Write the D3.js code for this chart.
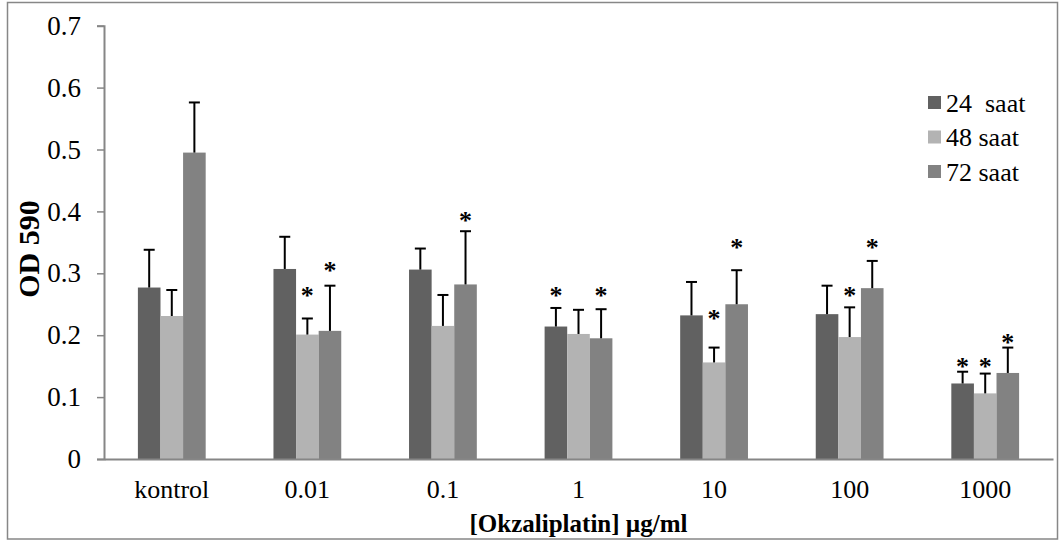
<!DOCTYPE html>
<html><head><meta charset="utf-8">
<script src="https://cdn.jsdelivr.net/npm/d3@7"></script>
<style>html,body{margin:0;padding:0;background:#fff;} svg text{font-family:"Liberation Serif","Times New Roman",serif;}</style>
</head><body>
<svg id="c" width="1062" height="542"></svg>
<script>
const categories = ["kontrol","0.01","0.1","1","10","100","1000"];
const seriesNames = ["24  saat","48 saat","72 saat"];
const s24 = [0.277,0.307,0.306,0.214,0.232,0.234,0.122];
const s48 = [0.231,0.201,0.215,0.202,0.156,0.197,0.106];
const s72 = [0.495,0.207,0.282,0.195,0.250,0.276,0.139];
const e24 = [0.061,0.052,0.034,0.030,0.054,0.046,0.019];
const e48 = [0.042,0.026,0.050,0.039,0.024,0.048,0.032];
const e72 = [0.081,0.073,0.086,0.047,0.055,0.044,0.041];
const star24 = [null,null,null,0.272,null,null,0.156];
const star48 = [null,0.272,null,null,0.234,0.272,0.156];
const star72 = [null,0.311,0.392,0.272,0.349,0.349,0.195];
const yTicks = [0,0.1,0.2,0.3,0.4,0.5,0.6,0.7];
const yTickLabels = ["0","0.1","0.2","0.3","0.4","0.5","0.6","0.7"];
const colors = ["#616161","#b3b3b3","#828282"];
const FONT = "'Liberation Serif', 'Times New Roman', serif";

const series = [
  {name:seriesNames[0], v:s24, e:e24, s:star24},
  {name:seriesNames[1], v:s48, e:e48, s:star48},
  {name:seriesNames[2], v:s72, e:e72, s:star72}
];

const svg = d3.select("#c");
svg.append("rect").attr("x",7.5).attr("y",2.5).attr("width",1050).attr("height",536.5)
  .attr("fill","#fff").attr("stroke","#878787").attr("stroke-width",1.5);

const x0 = d3.scaleBand().domain(categories).range([104,1053]).padding(0);
const x1 = d3.scaleBand().domain([0,1,2]).range([x0.bandwidth()*0.25, x0.bandwidth()*0.75]).padding(0);
const y = d3.scaleLinear().domain([0,0.7]).range([459,25.7]);

// y axis
const ya = svg.append("g").attr("transform","translate(104,0)")
  .call(d3.axisLeft(y).tickValues(yTicks).tickSize(7).tickPadding(16)
    .tickFormat((d,i)=>yTickLabels[i]));
ya.attr("font-family",FONT);
ya.select(".domain").attr("stroke","#868686").attr("stroke-width",2);
ya.selectAll(".tick line").attr("stroke","#868686").attr("stroke-width",1.5);
ya.selectAll(".tick text").attr("font-size",27).attr("fill","#000");

// bars
const groups = svg.append("g").selectAll("g").data(categories).join("g")
  .attr("transform",d=>`translate(${x0(d)},0)`);
series.forEach((s,si)=>{
  groups.append("rect")
    .attr("x",x1(si)).attr("width",x1.bandwidth())
    .attr("y",(d,i)=>y(s.v[i])).attr("height",(d,i)=>y(0)-y(s.v[i]))
    .attr("fill",colors[si]);
});

// x axis
const xa = svg.append("g").attr("transform","translate(0,459)")
  .call(d3.axisBottom(x0).tickSize(0).tickPadding(21));
xa.attr("font-family",FONT);
xa.select(".domain").attr("stroke","#868686").attr("stroke-width",2);
xa.selectAll(".tick text").attr("font-size",26).attr("fill","#000");

// error bars
series.forEach((s,si)=>{
  const g = groups.append("g");
  const cx = x1(si)+x1.bandwidth()/2;
  g.append("line").attr("x1",cx).attr("x2",cx)
    .attr("y1",(d,i)=>y(s.v[i])).attr("y2",(d,i)=>y(s.v[i]+s.e[i]))
    .attr("stroke","#000").attr("stroke-width",2);
  g.append("line").attr("x1",cx-5.5).attr("x2",cx+5.5)
    .attr("y1",(d,i)=>y(s.v[i]+s.e[i])).attr("y2",(d,i)=>y(s.v[i]+s.e[i]))
    .attr("stroke","#000").attr("stroke-width",2);
});

// asterisks
series.forEach((s,si)=>{
  const cx = x1(si)+x1.bandwidth()/2;
  groups.filter((d,i)=>s.s[i]!==null).append("text")
    .attr("x",cx).attr("y",d=>y(s.s[categories.indexOf(d)])+13)
    .attr("text-anchor","middle").style("font-family",FONT)
    .attr("font-size",26).attr("font-weight","bold")
    .text("*");
});

// legend
const leg = svg.append("g");
series.forEach((s,si)=>{
  const cy = 102.5 + si*34.5;
  leg.append("rect").attr("x",928).attr("y",cy-6.5).attr("width",13).attr("height",13).attr("fill",colors[si]);
  leg.append("text").attr("x",946).attr("y",cy+9)
    .style("font-family",FONT).style("font-size","26px")
    .text(s.name.replace(/  /g,"\u00a0 "));
});

// axis titles
svg.append("text").attr("x",578.5).attr("y",532).attr("text-anchor","middle")
  .style("font-family",FONT).attr("font-size",25).attr("font-weight","bold").text("[Okzaliplatin] µg/ml");
svg.append("text").attr("transform","translate(39,249) rotate(-90)").attr("text-anchor","middle")
  .style("font-family",FONT).attr("font-size",30).attr("font-weight","bold").text("OD 590");
</script>
</body></html>
